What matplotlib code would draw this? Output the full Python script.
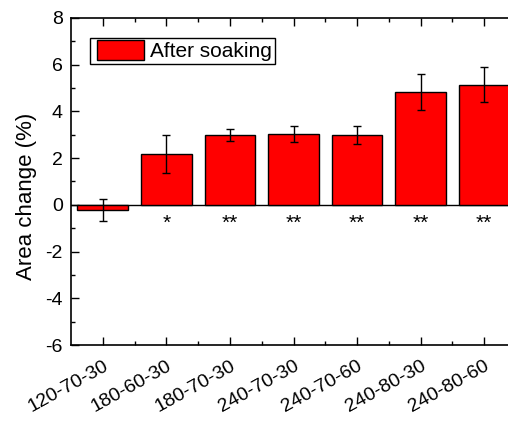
import matplotlib
matplotlib.use("Agg")
import matplotlib.pyplot as plt
from matplotlib.ticker import MultipleLocator, FixedLocator
from matplotlib.legend_handler import HandlerPatch
from matplotlib.patches import Rectangle
from matplotlib.container import BarContainer

plt.rcParams['font.family'] = ['Liberation Sans', 'DejaVu Sans']
plt.rcParams['axes.unicode_minus'] = False

categories = ["120-70-30", "180-60-30", "180-70-30", "240-70-30", "240-70-60", "240-80-30", "240-80-60"]
values = [-0.22, 2.19, 2.98, 3.02, 2.99, 4.84, 5.15]
errors = [0.48, 0.81, 0.26, 0.35, 0.40, 0.77, 0.76]
signif = ["", "*", "**", "**", "**", "**", "**"]
star_y = -0.8

fig = plt.figure(figsize=(5.08, 4.23), dpi=100)
ax = fig.add_axes([71/508, (423-345)/423, (516-71)/508, (345-18)/423])

x = list(range(1, len(categories) + 1))
bars = ax.bar(x, values, width=0.8, color="#ff0000", edgecolor="black", linewidth=1.0,
              label="After soaking", zorder=2)
ax.errorbar(x, values, yerr=errors, fmt="none", ecolor="black", elinewidth=1.0,
            capsize=2.8, capthick=1.0, zorder=3)
for xi, s in zip(x, signif):
    if s:
        ax.text(xi, star_y, s, ha="center", va="center", fontsize=15)

ax.set_xlim(0.5, 7.5)
ax.set_ylim(-6, 8)
ax.axhline(0, color="black", linewidth=1.0, zorder=1)
ax.yaxis.set_major_locator(MultipleLocator(2))
ax.yaxis.set_minor_locator(MultipleLocator(1))
ax.xaxis.set_major_locator(FixedLocator(x))
ax.xaxis.set_minor_locator(FixedLocator([xi + 0.5 for xi in x]))
ax.set_xticklabels(categories, rotation=29, ha="right", rotation_mode="anchor", fontsize=14)
ax.tick_params(axis="both", which="both", direction="in", top=True, right=True)
ax.tick_params(axis="y", labelsize=14)
ax.tick_params(which="major", length=6, width=1)
ax.tick_params(which="minor", length=3, width=1)
ax.tick_params(axis="x", pad=9)
ax.tick_params(axis="y", pad=6)
for sp in ax.spines.values():
    sp.set_linewidth(1.2)
ax.set_ylabel("Area change (%)", fontsize=16)
ax.yaxis.set_label_coords(-0.077, 0.456)


def shifted_patch(legend, orig_handle, xdescent, ydescent, width, height, fontsize):
    shift = 3.0
    return Rectangle((-xdescent + shift, -ydescent), width - shift, height)


def copy_first(legend_handle, orig_handle):
    first = orig_handle.patches[0]
    legend_handle.update_from(first)
    legend_handle.set_linewidth(1.0)


leg = ax.legend(loc="upper left", bbox_to_anchor=(90/508, 1 - 38/423), bbox_transform=fig.transFigure,
                borderaxespad=0, fontsize=15,
                frameon=True, fancybox=False, edgecolor="black", framealpha=1,
                handlelength=2.45, handleheight=1.05, borderpad=0.12, handletextpad=0.32,
                handler_map={BarContainer: HandlerPatch(patch_func=shifted_patch, update_func=copy_first)})
leg.get_frame().set_linewidth(1.0)

fig.savefig("out.png", dpi=100)
